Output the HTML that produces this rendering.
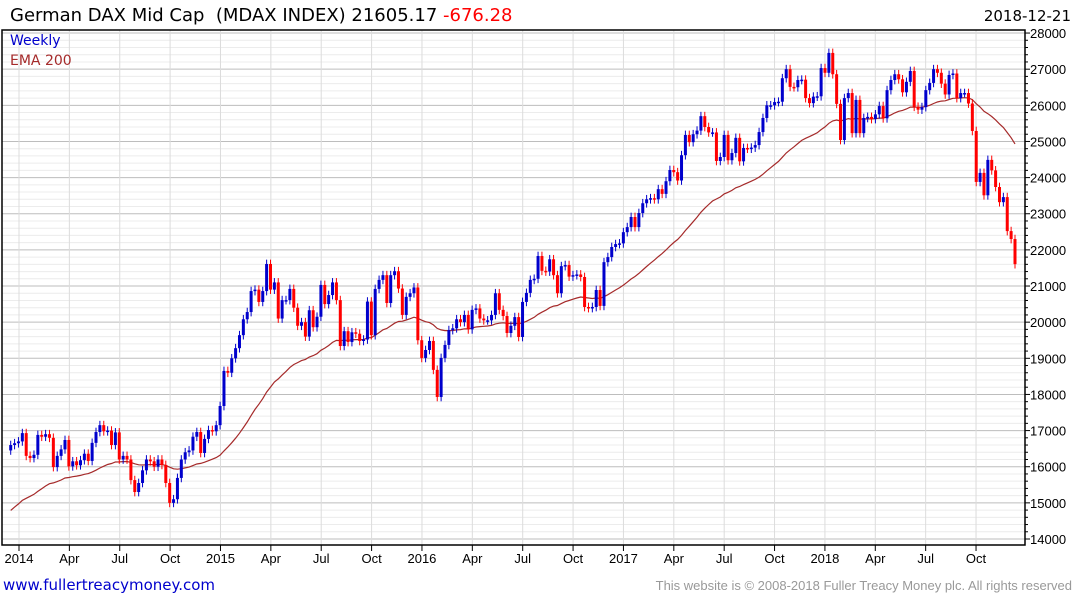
<!DOCTYPE html>
<html><head><meta charset="utf-8"><style>
body{margin:0;background:#fff;width:1075px;height:600px;overflow:hidden;font-family:"Liberation Sans",sans-serif}
svg text{font-family:"Liberation Sans",sans-serif}
svg text.dv{font-family:"DejaVu Sans","Liberation Sans",sans-serif}
</style></head><body>
<svg id="chart" width="1075" height="600" xmlns="http://www.w3.org/2000/svg">
<rect x="0" y="0" width="1075" height="600" fill="#fff"/>
<g id="grid"></g>
<g id="ema"></g>
<g id="candles"></g>
<g id="axes"></g>
<text class="dv" x="10" y="21" font-size="18" fill="#000" style="white-space:pre">German DAX Mid Cap  (MDAX INDEX) 21605.17 <tspan fill="#f00">-676.28</tspan></text>
<text class="dv" x="1071" y="21" font-size="15" fill="#000" text-anchor="end">2018-12-21</text>
<text class="dv" x="10" y="45" font-size="14" fill="#0000cc">Weekly</text>
<text class="dv" x="10" y="65" font-size="14" fill="#a52a2a">EMA 200</text>
<text class="dv" x="3" y="590" font-size="15" fill="#0000cc">www.fullertreacymoney.com</text>
<text x="1072" y="590" font-size="13" fill="#999" text-anchor="end">This website is © 2008-2018 Fuller Treacy Money plc. All rights reserved</text>
</svg>
<script>
const closes=[16600,16650,16700,16930,16300,16240,16330,16880,16830,16900,16800,15990,16300,16480,16740,16010,16150,16040,16180,16360,16160,16660,16960,17150,16980,17000,16600,16950,16200,16300,16200,15630,15300,15550,15900,16200,16150,16000,16200,16050,15550,15000,15100,15690,16200,16400,16450,16830,16960,16380,
16770,17015,16980,17150,17680,18650,18600,19000,19280,19640,20080,20280,20860,20900,20560,20860,21610,20900,21100,20100,20610,20610,20920,20400,19900,20000,19600,20330,19860,20150,21030,20500,20750,21100,20610,19340,19750,19450,19720,19680,19480,19520,20570,19640,20920,21170,21300,20530,21300,21410,20930,20200,20700,20800,20960,19500,19010,19230,19480,18680,17930,19010,19370,
19780,19830,20080,20000,20200,19800,20340,20380,20100,20050,20050,20200,20800,20340,20170,19700,19900,20140,19590,20560,20810,21170,21200,21830,21420,21400,21740,21300,20800,21550,21580,21260,21300,21320,21250,20420,20390,20420,20890,20450,21660,21800,22080,22160,22180,22490,22630,22910,22630,23020,23290,23400,23430,23400,23680,23550,23900,24210,24150,23920,24620,25180,24980,25200,25300,25700,25400,25250,25250,24460,
24570,25180,24480,24680,25100,24450,24820,24800,24830,24900,25260,25650,26000,26000,26090,26100,26750,27000,26510,26500,26700,26710,26200,26060,26240,26250,27030,26900,27450,26860,26040,25040,26200,26340,25230,26150,25230,25650,25680,25620,25750,25980,25640,26420,26700,26860,26720,26360,26650,26950,25960,25880,25950,26420,26620,27000,26900,26600,26300,26840,26880,26200,26340,26340,26050,25290,23880,24130,23510,24490,24200,23740,23320,23460,22520,22300,21605];
const firstOpen=16450;
const emaSeed=14700;
const emaPeriod=40;
const yTicks=[14000,15000,16000,17000,18000,19000,20000,21000,22000,23000,24000,25000,26000,27000,28000];
const xLabels=["2014","Apr","Jul","Oct","2015","Apr","Jul","Oct","2016","Apr","Jul","Oct","2017","Apr","Jul","Oct","2018","Apr","Jul","Oct"];
const NS="http://www.w3.org/2000/svg";
const L=2,R=1025,T=30,B=545;
function y(v){return 539-(v-14000)*36.14/1000;}
const x0=10.7,x1=1015;
function x(i){return x0+i*(x1-x0)/(closes.length-1);}
function mk(tag,attrs,parent){const e=document.createElementNS(NS,tag);for(const k in attrs)e.setAttribute(k,attrs[k]);parent.appendChild(e);return e;}
const grid=document.getElementById('grid'),axes=document.getElementById('axes');
for(let v=14000;v<=28000;v+=200){const g=mk('line',{x1:L,x2:R,y1:y(v),y2:y(v),stroke:v%1000===0?'#bdbdbd':'#ececec','stroke-width':1},grid);


const t=mk('line',{x1:R,x2:R+(v%1000===0?5:3),y1:y(v),y2:y(v),stroke:'#000'},axes);

}
yTicks.forEach(v=>{const t=mk('text',{x:1030,y:y(v)+5,'font-size':13,fill:'#000'},axes);t.textContent=v;

});
xLabels.forEach((lab,k)=>{const xx=19+k*50.37;
const g=mk('line',{x1:xx,x2:xx,y1:T,y2:B,stroke:'#dcdcdc'},grid);


const tk=mk('line',{x1:xx,x2:xx,y1:B,y2:B+6,stroke:'#000'},axes);


const t=mk('text',{x:xx,y:563,'font-size':13,fill:'#000','text-anchor':'middle'},axes);t.textContent=lab;

});
const fr=mk('rect',{x:L,y:T,width:R-L,height:B-T,fill:'none',stroke:'#000','stroke-width':1.5},axes);


let e=emaSeed,pts=[];const a=2/(emaPeriod+1);
closes.forEach((c,i)=>{e=e+a*(c-e);pts.push(x(i).toFixed(1)+','+y(e).toFixed(1));});
const pl=mk('polyline',{points:pts.join(' '),fill:'none',stroke:'#a52a2a','stroke-width':1.2},document.getElementById('ema'));


const cg=document.getElementById('candles');
closes.forEach((c,i)=>{const o=i===0?firstOpen:closes[i-1];const col=c>=o?'#0000cc':'#ff0000';
const hi=Math.max(o,c)+120,lo=Math.min(o,c)-120;const xx=x(i);
const w=mk('line',{x1:xx,x2:xx,y1:y(hi),y2:y(lo),stroke:col,'stroke-width':1},cg);


const top=y(Math.max(o,c)),h=Math.max(1.5,y(Math.min(o,c))-top);
const b=mk('rect',{x:xx-1.5,y:top,width:3,height:h,fill:col},cg);

});
</script>
</body></html>
